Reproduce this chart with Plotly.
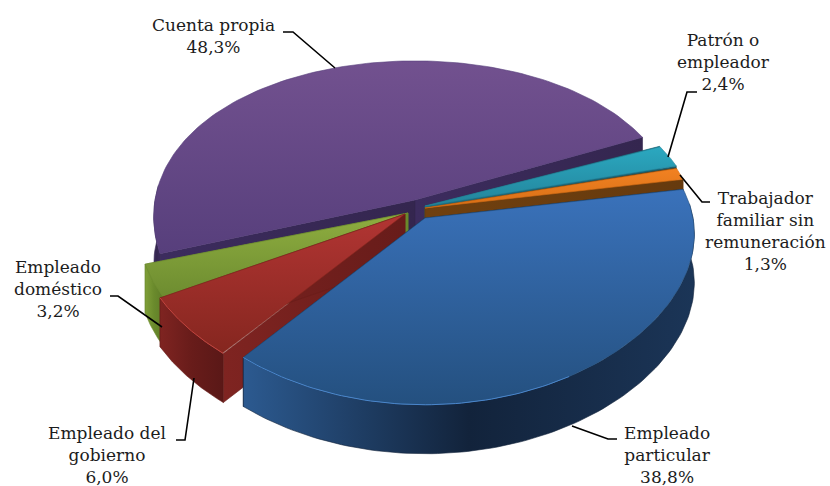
import numpy as np
import plotly.graph_objects as go

# datos del grafico
categorias = ['Empleado particular', 'Empleado del gobierno', 'Empleado doméstico',
              'Cuenta propia', 'Patrón o empleador', 'Trabajador familiar sin remuneración']
valores = [38.8, 6.0, 3.2, 48.3, 2.4, 1.3]
etiquetas = ['Empleado<br>particular', 'Empleado del<br>gobierno', 'Empleado<br>doméstico',
             'Cuenta propia', 'Patrón o<br>empleador', 'Trabajador<br>familiar sin<br>remuneración']

# proyeccion del pastel inclinado
RX, RY, PX, PY, DEPTH = 268, 155, 0.1, 0.17, 49
START = -11
centros = [(425, 218), (405, 214), (408, 213), (415, 200), (425, 206), (425, 208)]
escalas = [(1, 1), (1, 1), (1, 1), (0.97, 1.05), (1, 1), (1, 1)]
top_cols = [('#3a72bb', '#24507f'), ('#b23533', '#85261f'), ('#8fae40', '#6d8c30'),
            ('#72518f', '#573f7c'), ('#2ba8c0', '#23849b'), ('#f28222', '#d86f16')]
side_cols = [('#2c5a90', '#12233b', '#1b3557'), ('#7f2421', '#681c1a', '#5a1817'),
             ('#7f9f38', '#6a8a2c', '#5f7d28'), ('#3c2c5e', '#34264f', '#3c2c5e'),
             ('#1f6f82', '#1b5f70', '#1f6f82'), ('#70400f', '#663a0e', '#70400f')]
rim_cols = ['#4a86cc', '#c2443f', None, None, None, None]
orden = [3, 4, 5, 2, 1, 0]

# posicion de etiquetas (centro x, centro y)
pos_etiq = [(667, 455), (107, 455), (58, 289), (213, 36), (723, 62), (765, 231)]
guias = [[(617, 439), (608, 439), (572, 426)], [(176, 440), (185, 440), (194, 378)],
         [(110, 296), (118, 296), (162, 327)], [(283, 32), (293, 32), (335, 68)],
         [(697, 92), (687, 92), (668, 157)], [(710, 202), (702, 202), (680, 175)]]


def proyectar(theta, c, e=(1, 1)):
    t = np.radians(theta)
    u, v = np.cos(t), np.sin(t)
    return c[0] + e[0] * RX * u / (1 - PX * v), c[1] + e[1] * RY * v / (1 - PY * v)


def poly(xs, ys, cols, tipo):
    xs, ys = np.asarray(xs), np.asarray(ys)
    a, b = (xs.min(), xs.max()) if tipo == 'horizontal' else (ys.min(), ys.max())
    escala = [[i / (len(cols) - 1), c] for i, c in enumerate(cols)]
    return go.Scatter(x=xs, y=ys, mode='lines', fill='toself',
                      line=dict(width=0.6, color=cols[len(cols) // 2]),
                      fillgradient=dict(type=tipo, colorscale=escala, start=a, stop=b),
                      hoverinfo='skip', showlegend=False)


fig = go.Figure()

angulos = START + np.cumsum([0] + valores) * 3.6
for i in orden:
    c, e = centros[i], escalas[i]
    a0, a1 = angulos[i], angulos[i + 1]
    th = np.linspace(a0, a1, 120)
    x, y = proyectar(th, c, e)

    # paredes radiales
    for borde in (a0, a1):
        xb, yb = proyectar(borde, c, e)
        fig.add_trace(poly([c[0], xb, xb, c[0], c[0]],
                           [c[1], yb, yb + DEPTH, c[1] + DEPTH, c[1]],
                           side_cols[i][:2], 'horizontal'))

    # pared exterior, solo la parte que mira al frente
    tv = th[(th > -6) & (th < 186)]
    if len(tv) > 1:
        xv, yv = proyectar(tv, c, e)
        fig.add_trace(poly(np.r_[xv, xv[::-1], xv[0]], np.r_[yv, yv[::-1] + DEPTH, yv[0]],
                           side_cols[i], 'horizontal'))

    # cara superior
    fig.add_trace(poly(np.r_[c[0], x, c[0]], np.r_[c[1], y, c[1]], top_cols[i], 'vertical'))

    if rim_cols[i]:
        tb = th[th > 60]
        xb, yb = proyectar(tb, c, e)
        fig.add_trace(go.Scatter(x=xb, y=yb, mode='lines', hoverinfo='skip', showlegend=False,
                                 line=dict(color=rim_cols[i], width=1)))

# etiquetas y lineas guia
for i in range(len(valores)):
    texto = etiquetas[i] + '<br>' + f'{valores[i]:.1f}'.replace('.', ',') + '%'
    fig.add_annotation(x=pos_etiq[i][0], y=pos_etiq[i][1], text=texto, showarrow=False,
                       xanchor='center', yanchor='middle', align='center',
                       font=dict(family='DejaVu Serif', size=17, color='#1c1c1c'))
    fig.add_trace(go.Scatter(x=[p[0] for p in guias[i]], y=[p[1] for p in guias[i]], mode='lines',
                             line=dict(color='black', width=1.6), hoverinfo='skip', showlegend=False))

fig.update_layout(
    width=830, height=486, margin=dict(l=0, r=0, t=0, b=0),
    paper_bgcolor='white', plot_bgcolor='white',
    xaxis=dict(range=[0, 830], visible=False),
    yaxis=dict(range=[486, 0], visible=False),
)
fig.write_html("out.html", config={'displayModeBar': False},
               post_script="document.body.style.margin='0';document.body.style.overflow='hidden';")
